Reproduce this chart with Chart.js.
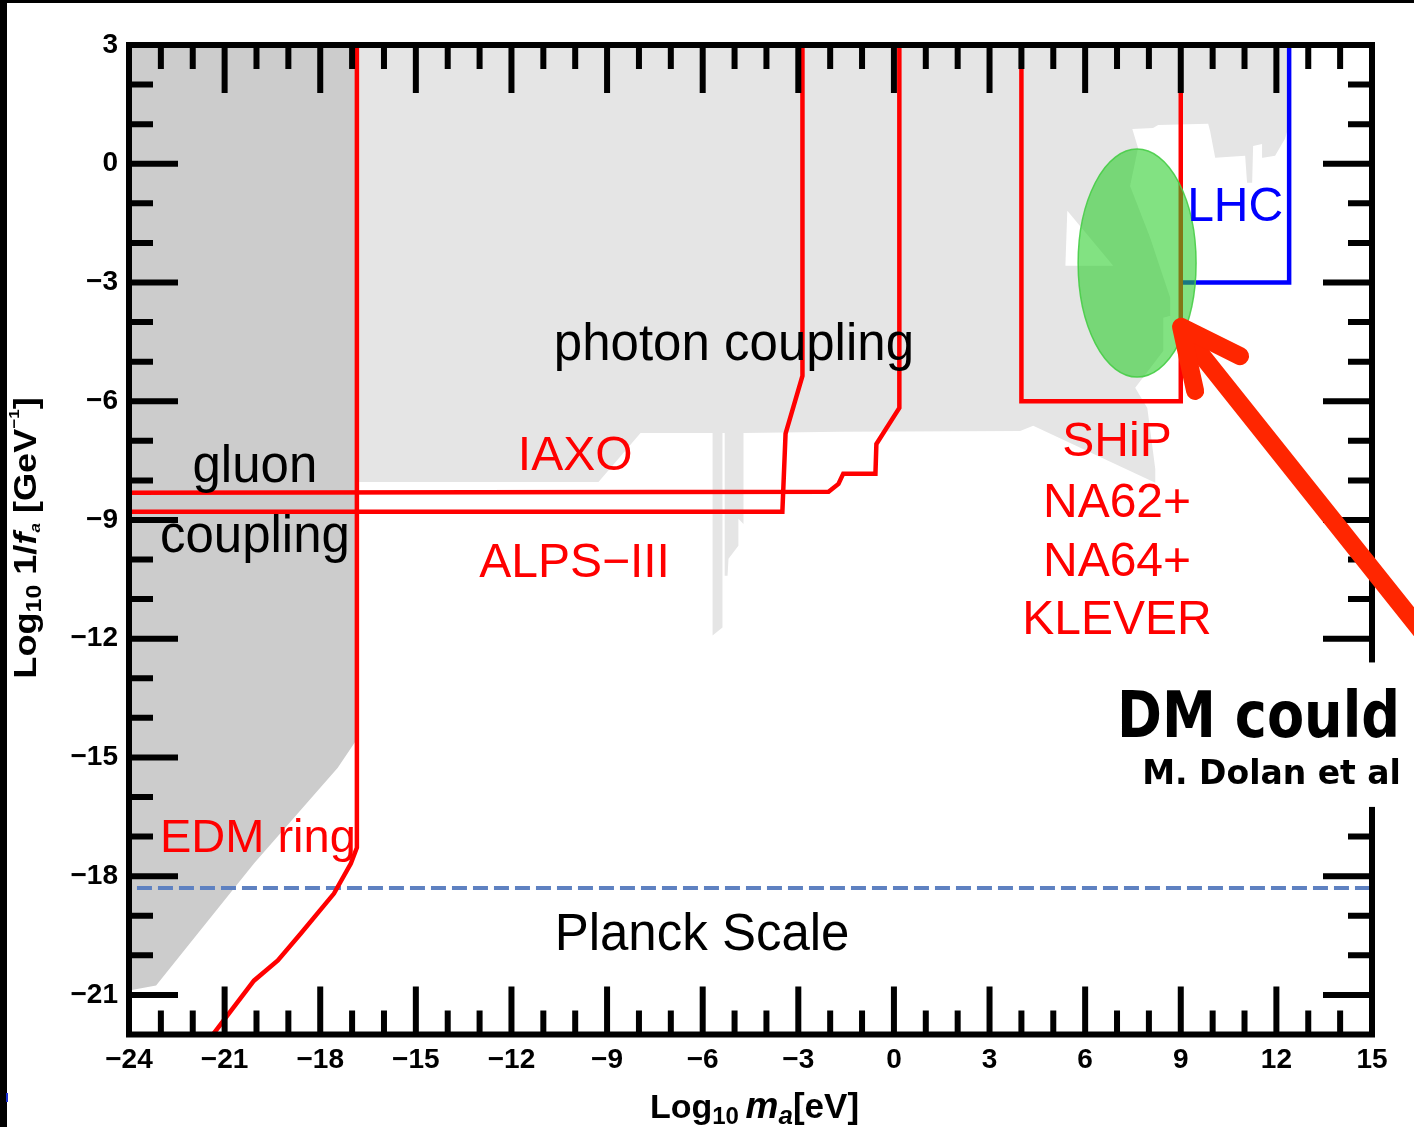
<!DOCTYPE html>
<html>
<head>
<meta charset="utf-8">
<style>
html,body{margin:0;padding:0;background:#ffffff;overflow:hidden}
canvas{display:block}
</style>
<script src="https://cdn.jsdelivr.net/npm/chart.js@4.4.1/dist/chart.umd.min.js"></script>
</head>
<body>
<canvas id="c" width="1414" height="1127"></canvas>
<script>
// ---------------- data (log10 m_a [eV], log10 1/f_a [GeV^-1]) ----------------
const xRange = [-24, 15];
const yRange = [-22, 3];
const xTickValues = [-24, -21, -18, -15, -12, -9, -6, -3, 0, 3, 6, 9, 12, 15];
const yTickValues = [-21, -18, -15, -12, -9, -6, -3, 0, 3];

// excluded by photon coupling (light grey)
const photonRegion = [
  [-17.2, 3], [12.34, 3], [12.34, 0.83], [12.27, 0.63], [11.96, 0.20], [11.58, 0.15],
  [11.55, 0.50], [11.27, 0.45], [11.24, -0.48], [11.08, -0.48], [11.02, 0.20],
  [10.08, 0.15], [9.92, 0.83], [9.86, 1.01], [8.29, 0.98], [8.13, 0.90], [7.48, 0.88],
  [7.66, 0.40], [7.41, -0.56], [8.04, -1.87], [8.67, -3.39], [8.67, -3.84], [8.45, -3.89],
  [8.45, -4.73], [7.57, -5.66], [7.95, -6.17], [8.20, -7.71], [8.20, -8.06], [4.37, -6.62],
  [3.96, -6.75], [-1.68, -6.77], [-4.72, -6.80], [-4.72, -9.10], [-4.88, -8.97],
  [-4.88, -9.65], [-5.19, -9.98], [-5.22, -10.41], [-5.31, -10.41], [-5.31, -6.80],
  [-5.38, -6.80], [-5.38, -11.72], [-5.69, -11.92], [-5.69, -6.80], [-7.95, -6.80],
  [-9.27, -8.04], [-17.2, -8.04], [-17.2, 3]
];
// small allowed notch inside the photon region
const photonNotch = [[5.44, -1.19], [5.38, -2.58], [6.88, -2.58], [5.44, -1.19]];
// excluded by gluon coupling (dark grey)
const gluonRegion = [
  [-24, 3], [-16.88, 3], [-16.88, -14.58], [-17.45, -15.26], [-20.08, -17.68],
  [-23.15, -20.76], [-24, -20.89], [-24, 3]
];
// projected sensitivities
const edmRing = [
  [-21.84, -22.5], [-20.08, -20.64], [-19.33, -20.13], [-18.61, -19.45], [-17.57, -18.44],
  [-17.04, -17.68], [-16.85, -17.28], [-16.85, 3]
];
const iaxo = [
  [-24, -8.31], [-2.05, -8.29], [-1.74, -8.09], [-1.59, -7.83], [-0.58, -7.83],
  [-0.55, -7.08], [0.17, -6.17], [0.17, 3]
];
const alpsIII = [[-24, -8.79], [-3.50, -8.79], [-3.40, -6.82], [-2.87, -5.36], [-2.87, 3]];
const shipBox = [[4, 3], [4, -6], [9, -6], [9, 3]];
const lhcBox = [[9, -3], [12.4, -3], [12.4, 3]];
const planckScale = [[-23.75, -18.3], [15, -18.3]];
// DM region (ellipse) : centre and semi-axes
const dmCenter = [7.63, -2.51];
const dmRadii = [1.85, 2.88];
// arrow
const arrowShaft = [[9.07, -4.25], [16.82, -12.08]];
const arrowHead = [[10.86, -4.86], [9.01, -4.12], [9.45, -5.74]];

// ---------------- annotations ----------------
const SANS = '"Liberation Sans", Arial, sans-serif';
const textLabels = [
  { text: 'photon coupling', x: -5.02, y: -4.96, color: '#000000', size: 51, align: 'center' },
  { text: 'gluon', x: -20.05, y: -8.04, color: '#000000', size: 51, align: 'center' },
  { text: 'coupling', x: -20.05, y: -9.81, color: '#000000', size: 51, align: 'center' },
  { text: 'IAXO', x: -10.0, y: -7.74, color: '#ff0000', size: 48, align: 'center' },
  { text: 'ALPS\u2212III', x: -10.02, y: -10.44, color: '#ff0000', size: 48, align: 'center' },
  { text: 'SHiP', x: 7.0, y: -7.38, color: '#ff0000', size: 48, align: 'center' },
  { text: 'NA62+', x: 7.0, y: -8.93, color: '#ff0000', size: 48, align: 'center' },
  { text: 'NA64+', x: 7.0, y: -10.42, color: '#ff0000', size: 48, align: 'center' },
  { text: 'KLEVER', x: 7.0, y: -11.88, color: '#ff0000', size: 48, align: 'center' },
  { text: 'LHC', x: 9.2, y: -1.45, color: '#0000ff', size: 48, align: 'left' },
  { text: 'EDM ring', x: -23.03, y: -17.39, color: '#ff0000', size: 47, align: 'left' },
  { text: 'Planck Scale', x: -6.02, y: -19.87, color: '#000000', size: 51, align: 'center' }
];

const toXY = arr => arr.map(p => ({ x: p[0], y: p[1] }));
const fmt = v => (v < 0 ? '\u2212' : '') + Math.abs(v);

function areaSet(pts, color, order) {
  return { data: toXY(pts), showLine: true, fill: 'shape', backgroundColor: color,
    borderWidth: 0, borderColor: 'rgba(0,0,0,0)', pointRadius: 0, pointHoverRadius: 0, order: order };
}
function lineSet(pts, color, width, order, dash) {
  return { data: toXY(pts), showLine: true, fill: false, borderColor: color, borderWidth: width,
    borderDash: dash || [], pointRadius: 0, pointHoverRadius: 0, order: order, borderJoinStyle: 'miter' };
}

function drawRich(ctx, segs) {
  let x = 0;
  for (const s of segs) {
    ctx.font = s.f;
    ctx.fillText(s.t, x, s.dy || 0);
    x += ctx.measureText(s.t).width;
  }
}
function richWidth(ctx, segs) {
  let w = 0;
  for (const s of segs) { ctx.font = s.f; w += ctx.measureText(s.t).width; }
  return w;
}

const overlay = {
  id: 'overlay',
  afterDatasetsDraw(chart) {
    const ctx = chart.ctx, xs = chart.scales.x, ys = chart.scales.y, a = chart.chartArea;
    const X = v => xs.getPixelForValue(v), Y = v => ys.getPixelForValue(v);

    // DM ellipse
    ctx.save();
    const cx = X(dmCenter[0]), cy = Y(dmCenter[1]);
    const rx = Math.abs(X(dmCenter[0] + dmRadii[0]) - cx);
    const ry = Math.abs(Y(dmCenter[1] + dmRadii[1]) - cy);
    ctx.beginPath();
    ctx.ellipse(cx, cy, rx, ry, 0, 0, Math.PI * 2);
    ctx.fillStyle = 'rgba(40,205,40,0.58)';
    ctx.fill();
    ctx.strokeStyle = 'rgba(70,205,70,0.9)';
    ctx.lineWidth = 1.5;
    ctx.stroke();
    ctx.restore();

    // frame with inward ticks on all four sides
    ctx.save();
    ctx.strokeStyle = '#000000';
    ctx.lineWidth = 6;
    ctx.lineCap = 'butt';
    ctx.beginPath();
    for (let v = xRange[0] + 1; v < xRange[1]; v++) {
      const len = Math.abs(v % 3) === 0 ? 48 : 24;
      const px = X(v);
      ctx.moveTo(px, a.bottom); ctx.lineTo(px, a.bottom - len);
      ctx.moveTo(px, a.top); ctx.lineTo(px, a.top + len);
    }
    for (let v = yRange[0] + 1; v < yRange[1]; v++) {
      const len = Math.abs(v % 3) === 0 ? 49 : 24;
      const py = Y(v);
      ctx.moveTo(a.left, py); ctx.lineTo(a.left + len, py);
      ctx.moveTo(a.right, py); ctx.lineTo(a.right - len, py);
    }
    ctx.stroke();
    ctx.lineJoin = 'miter';
    ctx.strokeRect(a.left, a.top, a.right - a.left, a.bottom - a.top);
    ctx.restore();

    // arrow
    ctx.save();
    ctx.strokeStyle = '#ff2600';
    ctx.lineWidth = 18;
    ctx.lineCap = 'round';
    ctx.lineJoin = 'round';
    ctx.beginPath();
    ctx.moveTo(X(arrowShaft[0][0]), Y(arrowShaft[0][1]));
    ctx.lineTo(X(arrowShaft[1][0]), Y(arrowShaft[1][1]));
    ctx.stroke();
    ctx.beginPath();
    arrowHead.forEach((p, i) => i ? ctx.lineTo(X(p[0]), Y(p[1])) : ctx.moveTo(X(p[0]), Y(p[1])));
    ctx.stroke();
    ctx.restore();

    // in-plot labels
    ctx.save();
    ctx.textBaseline = 'alphabetic';
    for (const l of textLabels) {
      ctx.font = l.size + 'px ' + SANS;
      ctx.fillStyle = l.color;
      ctx.textAlign = l.align;
      ctx.fillText(l.text, X(l.x), Y(l.y));
    }
    ctx.restore();

    // "DM could" box (covers the right frame)
    ctx.save();
    const bx = X(6.6), by = Y(-12.6), bb = Y(-16.25);
    ctx.fillStyle = '#ffffff';
    ctx.fillRect(bx, by, chart.width - bx, bb - by);
    ctx.fillStyle = '#000000';
    ctx.textAlign = 'left';
    ctx.textBaseline = 'alphabetic';
    ctx.font = 'bold 64px "DejaVu Sans", sans-serif';
    ctx.fillText('DM could', X(7.0), Y(-14.48), 283);
    ctx.font = 'bold 33px "DejaVu Sans", sans-serif';
    ctx.fillText('M. Dolan et al', X(7.79), Y(-15.67), 262);
    ctx.restore();

    // axis titles
    ctx.save();
    ctx.fillStyle = '#000000';
    ctx.textAlign = 'left';
    ctx.textBaseline = 'alphabetic';
    const xt = [
      { t: 'Log', f: 'bold 34px ' + SANS },
      { t: '10', f: 'bold 24px ' + SANS, dy: 6 },
      { t: ' ', f: 'bold 24px ' + SANS },
      { t: 'm', f: 'italic bold 37px ' + SANS },
      { t: 'a', f: 'italic bold 26px ' + SANS, dy: 6 },
      { t: '[eV]', f: 'bold 35px ' + SANS }
    ];
    const xw = richWidth(ctx, xt);
    ctx.translate((a.left + a.right) / 2 + 4 - xw / 2, a.bottom + 83.5);
    drawRich(ctx, xt);
    ctx.restore();

    ctx.save();
    ctx.fillStyle = '#000000';
    ctx.textAlign = 'left';
    ctx.textBaseline = 'alphabetic';
    const yt = [
      { t: 'Log', f: 'bold 32px ' + SANS },
      { t: '10', f: 'bold 22px ' + SANS, dy: 5 },
      { t: ' 1/', f: 'bold 32px ' + SANS },
      { t: 'f', f: 'italic bold 32px ' + SANS },
      { t: 'a', f: 'italic bold 15px ' + SANS, dy: 4 },
      { t: ' [GeV', f: 'bold 32px ' + SANS },
      { t: '\u22121', f: 'bold 15px ' + SANS, dy: -17 },
      { t: ']', f: 'bold 32px ' + SANS }
    ];
    const yw = richWidth(ctx, yt);
    const stretch = 1.13;
    ctx.translate(36, 538);
    ctx.rotate(-Math.PI / 2);
    ctx.scale(stretch, 1);
    ctx.translate(-yw / 2, 0);
    drawRich(ctx, yt);
    ctx.restore();

    // slide border remnants
    ctx.save();
    ctx.fillStyle = '#000000';
    ctx.fillRect(0, 0, 7, chart.height);
    ctx.fillRect(0, 0, chart.width, 3);
    ctx.fillStyle = '#1a2fd0';
    ctx.fillRect(6, 1093, 2, 9);
    ctx.restore();
  }
};

const tickFont = { family: SANS, size: 28, weight: 'bold' };

new Chart(document.getElementById('c'), {
  type: 'line',
  data: {
    datasets: [
      areaSet(photonRegion, '#e5e5e5', 20),
      areaSet(photonNotch, '#ffffff', 19),
      areaSet(gluonRegion, '#cccccc', 18),
      lineSet(planckScale, '#5e81c1', 4, 17, [15, 6]),
      lineSet(alpsIII, '#ff0000', 4.5, 16),
      lineSet(iaxo, '#ff0000', 4.5, 15),
      lineSet(edmRing, '#ff0000', 4.5, 14),
      lineSet(lhcBox, '#0000ff', 4.5, 13),
      lineSet(shipBox, '#ff0000', 4.5, 12)
    ]
  },
  options: {
    responsive: false,
    animation: false,
    devicePixelRatio: 1,
    layout: { padding: { top: 45, right: 42, left: 0, bottom: 0 } },
    plugins: { legend: { display: false }, tooltip: { enabled: false } },
    events: [],
    scales: {
      x: {
        type: 'linear', position: 'bottom', min: xRange[0], max: xRange[1],
        grid: { display: false, drawTicks: false }, border: { display: false },
        ticks: { font: tickFont, color: '#000000', padding: 9, maxRotation: 0, autoSkip: false,
          callback: v => fmt(v) },
        afterBuildTicks: s => { s.ticks = xTickValues.map(v => ({ value: v })); },
        afterFit: s => { s.height = 92.5; }
      },
      y: {
        type: 'linear', position: 'left', min: yRange[0], max: yRange[1],
        grid: { display: false, drawTicks: false }, border: { display: false },
        ticks: { font: tickFont, color: '#000000', padding: 11, autoSkip: false,
          callback: v => fmt(v) },
        afterBuildTicks: s => { s.ticks = yTickValues.map(v => ({ value: v })); },
        afterFit: s => { s.width = 129; }
      }
    }
  },
  plugins: [overlay]
});
</script>
</body>
</html>
